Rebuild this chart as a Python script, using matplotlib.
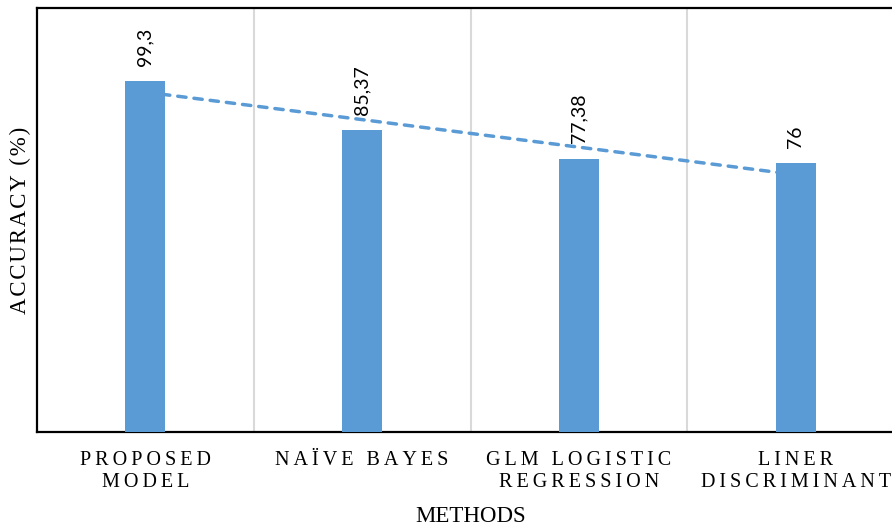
import numpy as np
import matplotlib
matplotlib.use("Agg")
import matplotlib.pyplot as plt

# Accuracy of each method (%)
methods = ["PROPOSED\nMODEL", "NAÏVE BAYES", "GLM LOGISTIC\nREGRESSION", "LINER\nDISCRIMINANT"]
accuracy = [99.3, 85.37, 77.38, 76.0]
value_labels = ["99,3", "85,37", "77,38", "76"]

BAR_COLOR = "#5B9BD5"
SERIF = ["Liberation Serif", "DejaVu Serif"]
THIN = "\u2009"
HAIR = "\u200a"


def tracked(label, gap=THIN):
    """Widen the letter spacing of a (possibly multi-line) label."""
    return "\n".join(gap.join(line) for line in label.split("\n"))


fig = plt.figure(figsize=(8.92, 5.27), dpi=100)
ax = fig.add_axes([37 / 892, 1 - 432 / 527, (904 - 37) / 892, (432 - 8) / 527])

x = np.arange(len(methods))

# Linear trend of the accuracies, drawn behind the bars
slope, intercept = np.polyfit(x, accuracy, 1)
ax.plot(x[[0, -1]], slope * x[[0, -1]] + intercept, color=BAR_COLOR,
        lw=2.5, dashes=(2.4, 2.3), dash_capstyle="round", zorder=2)

ax.bar(x, accuracy, width=0.185, color=BAR_COLOR, zorder=3)

for xi, v, t in zip(x, accuracy, value_labels):
    ax.annotate(t, (xi, v), xytext=(0, 11), textcoords="offset points",
                rotation=90, ha="center", va="bottom", fontsize=14,
                family=["Lato", "DejaVu Sans"], color="black")

ax.set_xlim(-0.5, 3.5)
ax.set_ylim(0, 120)
ax.set_yticks([])

ax.set_xticks(x)
ax.set_xticklabels([tracked(m) for m in methods], family=SERIF,
                   fontsize=14.5, linespacing=1.22, color="black")
ax.tick_params(axis="x", length=0, pad=13.5)

# Category separators
ax.set_xticks([0.5, 1.5, 2.5], minor=True)
ax.tick_params(axis="x", which="minor", length=0)
ax.grid(True, axis="x", which="minor", color="#D9D9D9", lw=1.5, zorder=0)
ax.set_axisbelow(True)

for side in ["left", "bottom", "top", "right"]:
    ax.spines[side].set_linewidth(1.6)
    ax.spines[side].set_color("black")

ax.set_xlabel("METHODS", family=SERIF, fontsize=16.5, labelpad=10.5)
ax.set_ylabel(tracked("ACCURACY (%)", HAIR), family=SERIF, fontsize=16.5,
              labelpad=4)

fig.savefig("out.png", dpi=100)
